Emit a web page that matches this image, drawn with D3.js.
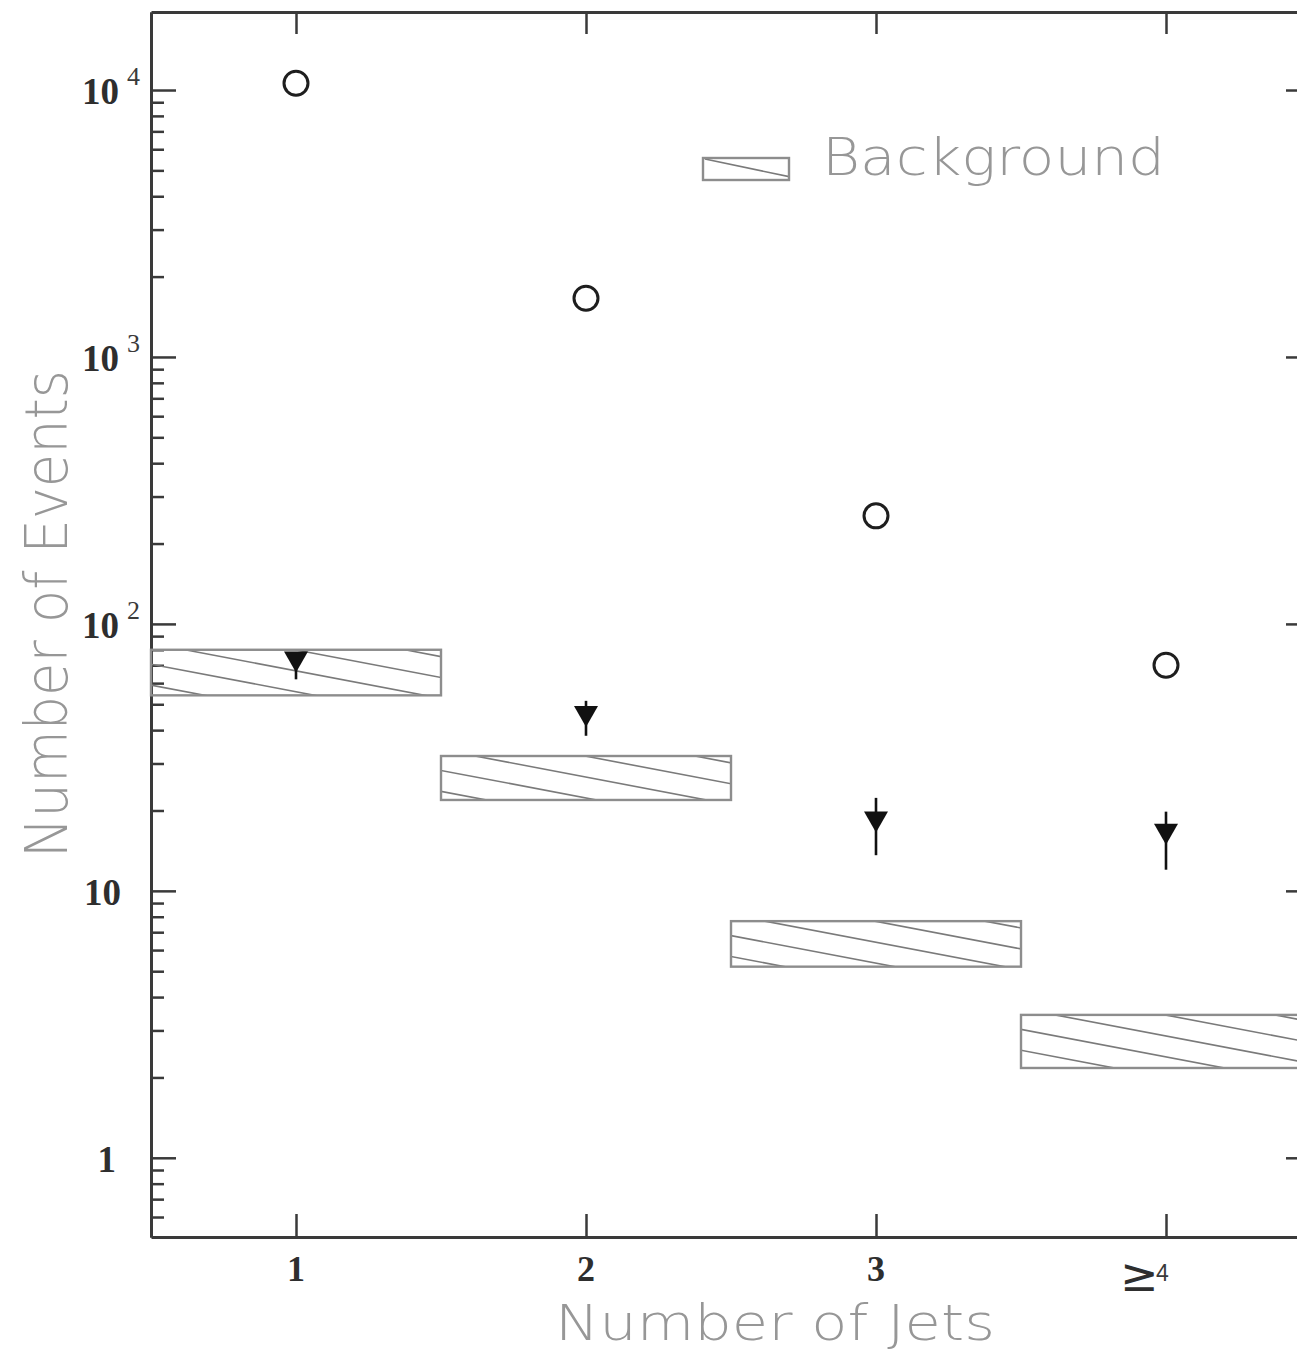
<!DOCTYPE html>
<html>
<head>
<meta charset="utf-8">
<script src="https://cdn.jsdelivr.net/npm/d3@7"></script>
<style>
  html, body { margin: 0; padding: 0; background: #fff; }
  svg { display: block; }
</style>
</head>
<body>
<script>
// ---------------- data ----------------
const categories = ["1", "2", "3", "≥4"];
const jetBins = [1, 2, 3, 4];
const observed = [10600, 1660, 254, 70];          // open circles
const signal = [72, 45, 18.1, 16.3];              // filled down-triangles
const signalLow = [62, 38.1, 13.6, 12.0];
const signalHigh = [78, 51.5, 22.3, 19.8];
const bgLow = [54, 21.9, 5.2, 2.17];              // hatched background band
const bgHigh = [80, 32, 7.7, 3.43];
const yMajorTicks = [1, 10, 100, 1000, 10000];
const yTickBase = ["1", "10", "10", "10", "10"];
const yTickExp = ["", "", "2", "3", "4"];
const legendLabel = "Background";
const xTitle = "Number of Jets";
const yTitle = "Number of Events";

// ---------------- layout ----------------
const W = 1297, H = 1351;
const plotL = 151, plotR = 1311, plotT = 12, plotB = 1237;

const svg = d3.select("body").append("svg")
  .attr("width", W).attr("height", H)
  .attr("viewBox", `0 0 ${W} ${H}`);

const x = d3.scaleLinear().domain([0.5, 4.5]).range([plotL, plotR]);
const y = d3.scaleLog().domain([0.505, 19600]).range([plotB, plotT]);

// minor ticks
const minorTicks = [];
for (let e = -1; e <= 4; e++) {
  for (let m = 2; m <= 9; m++) {
    const v = m * Math.pow(10, e);
    if (v > y.domain()[0] && v < y.domain()[1]) minorTicks.push(v);
  }
}

const axisColor = "#3a3a3a";
function styleAxis(g, w) {
  g.selectAll("path.domain").attr("stroke", axisColor).attr("stroke-width", 3);
  g.selectAll(".tick line").attr("stroke", axisColor).attr("stroke-width", w);
  g.selectAll(".tick text").remove();
}

// left axis (major + minor, inward)
svg.append("g").attr("transform", `translate(${plotL},0)`)
  .call(d3.axisLeft(y).tickValues(minorTicks).tickSize(-13).tickSizeOuter(0))
  .call(g => styleAxis(g, 2.5));
svg.append("g").attr("transform", `translate(${plotL},0)`)
  .call(d3.axisLeft(y).tickValues(yMajorTicks).tickSize(-25).tickSizeOuter(0))
  .call(g => styleAxis(g, 2.5));
// right axis (mirror)
svg.append("g").attr("transform", `translate(${plotR},0)`)
  .call(d3.axisRight(y).tickValues(minorTicks).tickSize(-13).tickSizeOuter(0))
  .call(g => styleAxis(g, 2.5));
svg.append("g").attr("transform", `translate(${plotR},0)`)
  .call(d3.axisRight(y).tickValues(yMajorTicks).tickSize(-25).tickSizeOuter(0))
  .call(g => styleAxis(g, 2.5));
// bottom & top axes
svg.append("g").attr("transform", `translate(0,${plotB})`)
  .call(d3.axisBottom(x).tickValues(jetBins).tickSize(-23).tickSizeOuter(0))
  .call(g => styleAxis(g, 2.5));
svg.append("g").attr("transform", `translate(0,${plotT})`)
  .call(d3.axisTop(x).tickValues(jetBins).tickSize(-22).tickSizeOuter(0))
  .call(g => styleAxis(g, 2.5));

// y tick labels with superscripts
const serif = "'Liberation Serif', 'Times New Roman', serif";
yMajorTicks.forEach((v, i) => {
  const yy = y(v);
  svg.append("text")
    .attr("x", yTickExp[i] ? 119 : (yTickBase[i] === "1" ? 116 : 121))
    .attr("y", yy + 14)
    .attr("text-anchor", "end")
    .attr("font-family", serif)
    .attr("font-weight", "bold")
    .attr("font-size", 37)
    .attr("fill", "#2e2e2e")
    .text(yTickBase[i]);
  if (yTickExp[i]) {
    svg.append("text")
      .attr("x", 127)
      .attr("y", yy - 5)
      .attr("font-family", serif)
      .attr("font-size", 26)
      .attr("fill", "#3a3a3a")
      .text(yTickExp[i]);
  }
});

// x tick labels
categories.forEach((c, i) => {
  const xx = x(jetBins[i]);
  if (c.startsWith("≥")) {
    svg.append("text")
      .attr("x", xx - 46).attr("y", 1291)
      .attr("font-family", "'DejaVu Sans', sans-serif")
      .attr("font-size", 46)
      .attr("fill", "#2e2e2e")
      .text("≥");
    svg.append("text")
      .attr("x", xx - 10).attr("y", 1281)
      .attr("font-family", "'Liberation Sans', sans-serif")
      .attr("font-size", 23)
      .attr("fill", "#3a3a3a")
      .text(c.slice(1));
  } else {
    svg.append("text")
      .attr("x", xx).attr("y", 1281)
      .attr("text-anchor", "middle")
      .attr("font-family", serif)
      .attr("font-weight", "bold")
      .attr("font-size", 36)
      .attr("fill", "#2e2e2e")
      .text(c);
  }
});

// axis titles
const thin = "'DejaVu Sans', 'Noto Sans', sans-serif";
svg.append("text")
  .attr("x", 555).attr("y", 1340)
  .attr("font-family", thin).attr("font-weight", 200)
  .attr("font-size", 50).attr("fill", "#979797")
  .attr("textLength", 440).attr("lengthAdjust", "spacingAndGlyphs")
  .text(xTitle);
svg.append("text")
  .attr("transform", "translate(67,858) rotate(-90)")
  .attr("font-family", thin).attr("font-weight", 200)
  .attr("font-size", 58).attr("fill", "#979797")
  .attr("textLength", 488).attr("lengthAdjust", "spacingAndGlyphs")
  .text(yTitle);

// ---------------- background hatched boxes ----------------
const defs = svg.append("defs");
const hatchSlope = 0.19, hatchPeriod = 110, hatchPhase = 34;
const boxStroke = "#8d8d8d", hatchStroke = "#7a7a7a";

jetBins.forEach((b, i) => {
  const x0 = x(b - 0.5), x1 = x(b + 0.5);
  const y0 = y(bgHigh[i]), y1 = y(bgLow[i]);
  const id = "clipbg" + i;
  defs.append("clipPath").attr("id", id)
    .append("rect").attr("x", x0).attr("y", y0).attr("width", x1 - x0).attr("height", y1 - y0);
  const g = svg.append("g").attr("clip-path", `url(#${id})`);
  const h = y1 - y0;
  for (let k = -4; k <= 4; k++) {
    const sx = x0 + hatchPhase + k * hatchPeriod;
    g.append("line")
      .attr("x1", sx).attr("y1", y0)
      .attr("x2", sx + 600).attr("y2", y0 + 600 * hatchSlope)
      .attr("stroke", hatchStroke).attr("stroke-width", 1.6);
  }
  svg.append("rect")
    .attr("x", x0).attr("y", y0).attr("width", x1 - x0).attr("height", h)
    .attr("fill", "none").attr("stroke", boxStroke).attr("stroke-width", 2.4);
});

// ---------------- signal triangles with vertical bars ----------------
jetBins.forEach((b, i) => {
  const xx = x(b);
  svg.append("line")
    .attr("x1", xx).attr("x2", xx)
    .attr("y1", y(signalHigh[i])).attr("y2", y(signalLow[i]))
    .attr("stroke", "#111").attr("stroke-width", 2.6);
  const yc = y(signal[i]);
  svg.append("path")
    .attr("d", `M${xx - 12},${yc - 10.5} L${xx + 12},${yc - 10.5} L${xx},${yc + 10.5} Z`)
    .attr("fill", "#111");
});

// ---------------- observed open circles ----------------
svg.selectAll("circle.obs").data(observed).enter().append("circle")
  .attr("class", "obs")
  .attr("cx", (d, i) => x(jetBins[i]))
  .attr("cy", d => y(d))
  .attr("r", 12)
  .attr("fill", "none")
  .attr("stroke", "#1e1e1e")
  .attr("stroke-width", 3);

// ---------------- legend ----------------
const lg = svg.append("g");
defs.append("clipPath").attr("id", "cliplegend")
  .append("rect").attr("x", 703).attr("y", 158).attr("width", 86).attr("height", 22);
lg.append("line").attr("clip-path", "url(#cliplegend)")
  .attr("x1", 705).attr("y1", 159).attr("x2", 805).attr("y2", 159 + 100 * 0.21)
  .attr("stroke", hatchStroke).attr("stroke-width", 1.6);
lg.append("rect").attr("x", 703).attr("y", 158).attr("width", 86).attr("height", 22)
  .attr("fill", "none").attr("stroke", boxStroke).attr("stroke-width", 2.4);
lg.append("text")
  .attr("x", 822).attr("y", 175)
  .attr("font-family", thin).attr("font-weight", 200)
  .attr("font-size", 52).attr("fill", "#979797")
  .attr("textLength", 343).attr("lengthAdjust", "spacingAndGlyphs")
  .text(legendLabel);
</script>
</body>
</html>
